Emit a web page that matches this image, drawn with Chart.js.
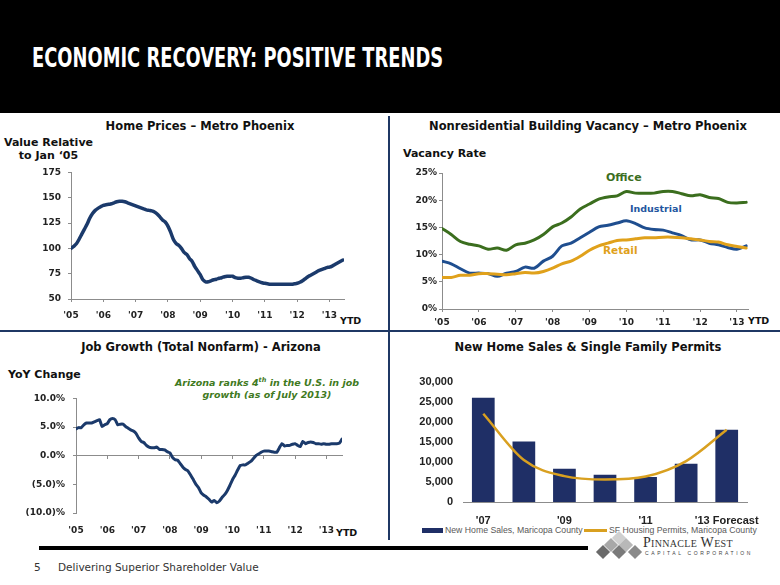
<!DOCTYPE html>
<html>
<head>
<meta charset="utf-8">
<script src="https://cdn.jsdelivr.net/npm/chart.js@4"></script>
<style>
  body { margin:0; width:780px; height:585px; background:#fff; position:relative; overflow:hidden; font-family:"DejaVu Sans", Verdana, sans-serif; }
  .abs { position:absolute; }
  .t { position:absolute; white-space:nowrap; line-height:1; }
  #header { left:0; top:0; width:780px; height:113px; background:#000; }
  #title { left:32px; top:45px; color:#fff; font-family:"DejaVu Sans Condensed","DejaVu Sans"; font-weight:bold; font-size:26px; transform-origin:0 0; }
  .ptitle { font-weight:bold; font-size:11.5px; color:#111; transform:translateX(-50%); }
  .atitle { font-weight:bold; font-size:11px; color:#111; }
  .ytd { font-weight:bold; font-size:9.5px; color:#111; }
  .vline { left:388px; top:116px; width:2px; height:424px; background:#1f3864; }
  .hline { left:0; top:330px; width:780px; height:2px; background:#1f3864; }
  .bar { left:39px; top:546px; width:549px; height:4px; background:#000; }
  .leg { font-family:"Liberation Sans", Arial, sans-serif; font-size:8.7px; color:#595959; }
  .dia { position:absolute; width:10px; height:10px; transform:rotate(45deg); }
</style>
</head>
<body>
<div id="header" class="abs"></div>
<div id="title" class="t">ECONOMIC RECOVERY: POSITIVE TRENDS</div>

<div class="abs vline"></div>
<div class="abs hline"></div>

<!-- panel titles -->
<div class="t ptitle" style="left:200px;top:121px">Home Prices – Metro Phoenix</div>
<div class="t ptitle" style="left:588px;top:121px">Nonresidential Building Vacancy – Metro Phoenix</div>
<div class="t ptitle" style="left:201px;top:342px">Job Growth (Total Nonfarm) - Arizona</div>
<div class="t ptitle" style="left:588px;top:342px">New Home Sales &amp; Single Family Permits</div>

<div class="t atitle" style="left:4px;top:136px;text-align:center;line-height:13px">Value Relative<br>to Jan ‘05</div>
<div class="t atitle" style="left:403px;top:148px">Vacancy Rate</div>
<div class="t atitle" style="left:8px;top:369px">YoY Change</div>

<div class="t" style="left:267px;top:377px;transform:translateX(-50%);text-align:center;font-weight:bold;font-style:italic;font-size:9.5px;line-height:11.5px;color:#3f7a22">Arizona ranks 4<sup style="font-size:6.5px;line-height:0">th</sup> in the U.S. in job<br>growth (as of July 2013)</div>

<div class="t" style="left:606px;top:172px;font-weight:bold;font-size:11px;color:#3b6e1e">Office</div>
<div class="t" style="left:630px;top:204px;font-weight:bold;font-size:9.5px;color:#2456a0">Industrial</div>
<div class="t" style="left:603px;top:245px;font-weight:bold;font-size:10.5px;color:#e0a11b">Retail</div>

<div class="t ytd" style="left:340px;top:316px">YTD</div>
<div class="t ytd" style="left:748px;top:316px">YTD</div>
<div class="t ytd" style="left:336px;top:528px">YTD</div>

<canvas id="c1" class="abs" width="370" height="170" style="left:0;top:160px"></canvas>
<canvas id="c2" class="abs" width="385" height="170" style="left:390px;top:160px"></canvas>
<canvas id="c3" class="abs" width="370" height="160" style="left:0;top:385px"></canvas>
<canvas id="c4" class="abs" width="385" height="160" style="left:395px;top:365px"></canvas>

<!-- legend, new home sales -->
<div class="abs" style="left:422px;top:528px;width:21px;height:5px;background:#1f2f66"></div>
<div class="t leg" style="left:445px;top:526px">New Home Sales, Maricopa County</div>
<div class="abs" style="left:584px;top:529px;width:23px;height:2.5px;background:#d9a020"></div>
<div class="t leg" style="left:609px;top:526px">SF Housing Permits, Maricopa County</div>

<div class="abs bar"></div>

<!-- footer -->
<div class="t" style="left:34px;top:562px;font-size:10.5px;color:#333">5</div>
<div class="t" style="left:58px;top:562px;font-size:10.5px;color:#333">Delivering Superior Shareholder Value</div>

<!-- logo -->
<div class="dia" style="left:614px;top:533px;background:#d0d0d0"></div>
<div class="dia" style="left:606px;top:540px;background:#a8a8a8"></div>
<div class="dia" style="left:621px;top:540px;background:#b8b8b8"></div>
<div class="dia" style="left:598px;top:547px;background:#6a6a6a"></div>
<div class="dia" style="left:614px;top:547px;background:#7a7a7a"></div>
<div class="dia" style="left:630px;top:547px;background:#8a8a8a"></div>
<div class="t" style="left:643px;top:536px;font-family:'Liberation Serif',serif;font-size:14px;font-variant:small-caps;letter-spacing:0.3px;color:#333">Pinnacle West</div>
<div class="t" style="left:645px;top:551px;font-family:'Liberation Sans',sans-serif;font-size:5px;letter-spacing:2.6px;color:#444">CAPITAL CORPORATION</div>

<script>
// ---- data ----
const yearTicks = [2005, 2006, 2007, 2008, 2009, 2010, 2011, 2012, 2013];

// monthly, Jan 2005 - Jun 2013
const homePrices = [
  100, 102, 104.5, 109, 114, 119, 124, 130, 134.5, 137.5, 139.5, 141,
  142.5, 143, 143.5, 144, 145, 146, 146.5, 146.5, 146, 145, 144, 143,
  142, 141, 140, 139, 138, 137.5, 137, 136, 134, 131, 128, 126,
  122, 116, 109, 105, 103, 100, 96, 94, 90, 87, 82, 78,
  74, 69, 67, 67, 68, 69, 69.5, 70.5, 71, 72, 72.5, 72.5,
  72.5, 71, 70.5, 70.5, 71, 71.5, 71.5, 70.5, 69, 68, 67, 66,
  65.5, 65, 64.5, 64.5, 64.5, 64.5, 64.5, 64.5, 64.5, 64.5, 64.5, 65,
  65.5, 66.5, 68, 70, 72, 73.5, 75, 76.5, 78, 79, 80, 81,
  81.5, 82.5, 84, 85.5, 87, 88.5
];

// quarterly, Q1 2005 - Q2 2013 (%)
const officeVacancy = [14.8, 13.7, 12.4, 11.9, 11.6, 11.0, 11.2, 10.8, 11.8, 12.1, 12.7, 13.7,
  15.1, 15.8, 16.9, 18.4, 19.3, 20.2, 20.6, 20.8, 21.6, 21.3, 21.3, 21.3,
  21.6, 21.6, 21.2, 20.8, 21.0, 20.5, 20.3, 19.6, 19.5, 19.6];
const industrialVacancy = [8.8, 8.3, 7.4, 6.6, 6.6, 6.5, 6.0, 6.6, 6.9, 7.7, 7.5, 8.8,
  9.7, 11.6, 12.1, 13.1, 14.1, 15.1, 15.4, 15.8, 16.2, 15.7, 14.9, 14.6,
  14.5, 14.0, 13.5, 12.7, 12.7, 12.1, 11.8, 11.3, 11.0, 11.6];
const retailVacancy = [5.8, 5.8, 6.2, 6.2, 6.5, 6.5, 6.4, 6.3, 6.5, 6.7, 6.6, 6.9,
  7.5, 8.3, 8.8, 9.7, 10.8, 11.6, 12.1, 12.6, 12.7, 12.9, 13.1, 13.1,
  13.2, 13.2, 13.1, 12.9, 12.7, 12.4, 12.3, 11.8, 11.5, 11.2];

// monthly YoY change, Jan 2005 - Jul 2013 (%)
const jobGrowth = [
  4.7, 4.9, 4.9, 5.4, 5.7, 5.7, 5.7, 5.9, 6.1, 6.3, 5.1, 5.4,
  5.6, 6.3, 6.5, 6.3, 5.4, 5.5, 5.5, 5.1, 4.8, 4.5, 4.3, 3.9,
  3.1, 2.5, 2.3, 1.8, 1.5, 1.4, 1.4, 1.5, 1.1, 1.1, 1.0, 0.7,
  0.5, -0.3, -0.7, -0.8, -1.4, -2.0, -2.4, -2.7, -3.4, -4.2, -5.0, -5.6,
  -6.5, -6.9, -7.2, -7.6, -8.1, -7.8, -8.2, -7.9, -7.3, -6.8, -6.1, -5.2,
  -4.2, -3.4, -2.5, -1.7, -1.6, -1.6, -1.3, -1.0, -0.5, 0.0, 0.3, 0.6,
  0.8, 0.8, 0.8, 0.7, 0.6, 0.6, 1.4, 2.1, 1.7, 1.8, 1.8, 2.0,
  2.1, 1.8, 1.6, 2.5, 2.1, 2.3, 2.4, 2.3, 2.1, 2.1, 2.0, 2.1,
  2.0, 2.0, 2.1, 2.1, 2.1, 2.2, 2.9
];

const salesYears = [2007, 2008, 2009, 2010, 2011, 2012, 2013];
const salesTickLabels = ["'07", "", "'09", "", "'11", "", "'13 Forecast"];
const newHomeSales = [26000, 15100, 8300, 6800, 6200, 9500, 18000];
const sfPermits = [22000, 10450, 6450, 5600, 6350, 10200, 18000];

// ---- styles ----
const axisColor = "#8c8c8c";
const tickColor = "#222";
const navy = "#1b3a6b";

Chart.defaults.font.family = "'DejaVu Sans', Verdana, sans-serif";
Chart.defaults.animation = false;
Chart.defaults.plugins.legend.display = false;
Chart.defaults.plugins.tooltip.enabled = false;

// title width fit
const titleEl = document.getElementById("title");
titleEl.style.transform = "scaleX(" + (411 / titleEl.offsetWidth) + ")";

function monthly(values) {
  return values.map((v, i) => ({ x: 2005 + i / 12, y: v }));
}
function quarterly(values) {
  return values.map((v, i) => ({ x: 2005 + i / 4, y: v }));
}

function yearAxis(max, height, pad, extra) {
  return Object.assign({
    type: "linear",
    min: 2005,
    max: max,
    afterBuildTicks: a => { a.ticks = yearTicks.map(v => ({ value: v })); },
    afterFit: a => { a.height = height; },
    ticks: {
      autoSkip: false, maxRotation: 0, padding: pad, color: tickColor,
      font: { weight: "bold", size: 9 },
      callback: v => "'" + String(v).slice(2)
    },
    grid: { drawOnChartArea: false, tickLength: 3, color: axisColor },
    border: { color: axisColor }
  }, extra || {});
}

function valueAxis(min, max, step, width, pad, fmt) {
  return {
    min: min, max: max,
    afterFit: a => { a.width = width; },
    ticks: { stepSize: step, padding: pad, color: tickColor, font: { weight: "bold", size: 9 }, callback: fmt },
    grid: { drawOnChartArea: false, tickLength: 3, color: axisColor },
    border: { color: axisColor }
  };
}

function lineSet(data, color, width) {
  return {
    data: data, borderColor: color, borderWidth: width, pointRadius: 0,
    tension: 0.3, borderCapStyle: "round", borderJoinStyle: "round", fill: false
  };
}

// ---- Home prices ----
new Chart(document.getElementById("c1"), {
  type: "line",
  data: { datasets: [lineSet(monthly(homePrices), navy, 3.5)] },
  options: {
    responsive: false,
    layout: { padding: { top: 11, right: 26, left: 0, bottom: 0 } },
    scales: {
      x: yearAxis(2013.45, 31, 8),
      y: valueAxis(50, 175, 25, 71, 7, v => v)
    }
  }
});

// ---- Vacancy ----
new Chart(document.getElementById("c2"), {
  type: "line",
  data: {
    datasets: [
      lineSet(quarterly(officeVacancy), "#3b6e1e", 3),
      lineSet(quarterly(retailVacancy), "#e0a11b", 3),
      lineSet(quarterly(industrialVacancy), "#1f4e8f", 3)
    ]
  },
  options: {
    responsive: false,
    layout: { padding: { top: 13, right: 27, left: 0, bottom: 0 } },
    scales: {
      x: yearAxis(2013.3, 21, 5),
      y: valueAxis(0, 25, 5, 52, 2, v => v + "%")
    }
  }
});

// ---- Job growth ----
new Chart(document.getElementById("c3"), {
  type: "line",
  data: { datasets: [Object.assign(lineSet(monthly(jobGrowth), navy, 3), { tension: 0.15 })] },
  options: {
    responsive: false,
    layout: { padding: { top: 9, right: 28, left: 0, bottom: 0 } },
    scales: {
      x: yearAxis(2013.5, 32, 12, {
        grid: { display: false, drawTicks: false },
        border: { display: false }
      }),
      x2: yearAxis(2013.5, 0, 0, {
        axis: "x",
        position: { y: 0 },
        ticks: { display: false }
      }),
      y: valueAxis(-10, 10, 5, 76, 8,
        v => v < 0 ? "(" + Math.abs(v).toFixed(1) + ")%" : v.toFixed(1) + "%")
    }
  }
});

// ---- New home sales & permits ----
new Chart(document.getElementById("c4"), {
  data: {
    labels: salesYears,
    datasets: [
      {
        type: "line", data: sfPermits, borderColor: "#d9a020", borderWidth: 2.5,
        pointRadius: 0, cubicInterpolationMode: "monotone", order: 0
      },
      {
        type: "bar", data: newHomeSales, backgroundColor: "#1f2f66",
        categoryPercentage: 0.8, barPercentage: 0.7, order: 1
      }
    ]
  },
  options: {
    responsive: false,
    layout: { padding: { top: 9, right: 33, left: 0, bottom: 0 } },
    scales: {
      x: {
        type: "category",
        afterFit: a => { a.height = 23; },
        grid: { display: false, drawTicks: false },
        border: { color: axisColor },
        ticks: {
          autoSkip: false, maxRotation: 0, padding: 12, color: tickColor,
          font: { family: "'Liberation Sans', Arial, sans-serif", weight: "bold", size: 11 },
          callback: (v, i) => salesTickLabels[i]
        }
      },
      y: {
        min: 0, max: 30000,
        afterFit: a => { a.width = 68; },
        grid: { display: false, drawTicks: false },
        border: { display: false },
        ticks: {
          stepSize: 5000, padding: 10, color: tickColor,
          font: { family: "'Liberation Sans', Arial, sans-serif", weight: "bold", size: 11 },
          callback: v => v.toLocaleString("en-US")
        }
      }
    }
  }
});
</script>
</body>
</html>
